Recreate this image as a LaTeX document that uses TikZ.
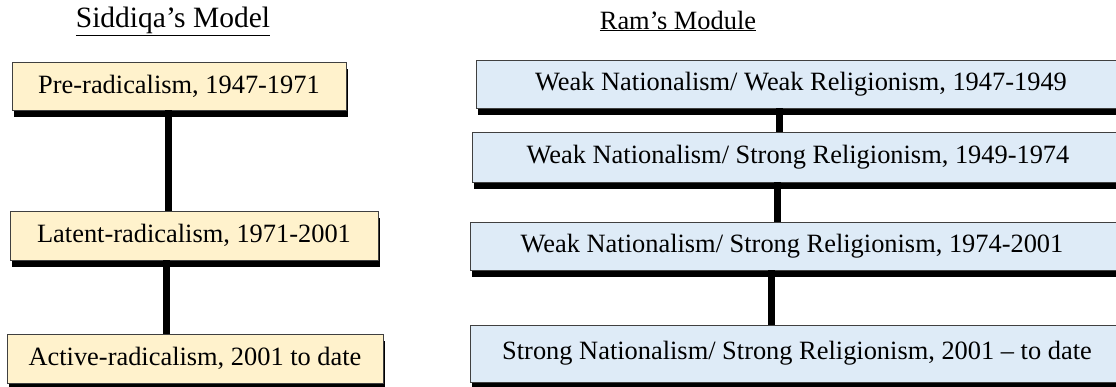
\documentclass[tikz,border=0pt]{standalone}
\usepackage{fontspec}
\setmainfont{Liberation Serif}
\usetikzlibrary{shadows}
\definecolor{siddiqafill}{HTML}{FFF2CC}
\definecolor{ramfill}{HTML}{DEEBF7}
\definecolor{edgegray}{HTML}{404040}
\tikzset{
  era/.style={draw=edgegray, line width=0.9pt, inner sep=0pt,
    drop shadow={shadow xshift=2pt, shadow yshift=-7pt, opacity=1, fill=black}},
  siddiqa/.style={era, fill=siddiqafill},
  ram/.style={era, fill=ramfill, anchor=west, minimum width=660pt},
  link/.style={line width=7pt},
}
\begin{document}
\begin{tikzpicture}[x=1pt, y=-1pt, font=\fontsize{26.4}{30}\selectfont]
  \useasboundingbox (0,0) rectangle (1116,387);
  \clip (0,0) rectangle (1116,387);

  % titles
  \node[font=\fontsize{29.5}{34}\selectfont] (siddiqatitle) at (173,21) {\underline{Siddiqa’s Model}};
  \node (ramtitle) at (678,21) {\underline{Ram’s Module}};

  % Siddiqa
  \node[siddiqa, minimum width=334pt, minimum height=48pt] (pre) at (179,86) {Pre-radicalism, 1947-1971};
  \node[siddiqa, minimum width=368pt, minimum height=49pt] (latent) at (194,235.5) {Latent-radicalism, 1971-2001};
  \node[siddiqa, minimum width=376pt, minimum height=49pt] (active) at (195,358.5) {Active-radicalism, 2001 to date};

  \begin{scope}[link]
    \draw ([xshift=-11pt]pre.south) -- ([xshift=-11pt]pre.south |- latent.north);
    \draw ([xshift=-28pt]latent.south) -- ([xshift=-28pt]latent.south |- active.north);
  \end{scope}

  % Ram
  \node[ram, minimum height=48pt] (weakweak) at (476,84) {};
  \node[ram, minimum height=50pt] (weakstrong) at (472,157) {};
  \node[ram, minimum height=48pt] (weakstronglate) at (470,246) {};
  \node[ram, minimum height=57pt] (strongstrong) at (470,353.5) {};

  \node (weakweaktext) at (801,84) {Weak Nationalism/ Weak Religionism, 1947-1949};
  \node (weakstrongtext) at (798,157) {Weak Nationalism/ Strong Religionism, 1949-1974};
  \node (weakstronglatetext) at (792,246) {Weak Nationalism/ Strong Religionism, 1974-2001};
  \node (strongstrongtext) at (797,353.5) {Strong Nationalism/ Strong Religionism, 2001 – to date};

  \begin{scope}[link]
    \draw ([xshift=-27pt]weakweak.south) -- ([xshift=-27pt]weakweak.south |- weakstrong.north);
    \draw ([xshift=-25pt]weakstrong.south) -- ([xshift=-25pt]weakstrong.south |- weakstronglate.north);
    \draw ([xshift=-29pt]weakstronglate.south) -- ([xshift=-29pt]weakstronglate.south |- strongstrong.north);
  \end{scope}
\end{tikzpicture}
\end{document}
